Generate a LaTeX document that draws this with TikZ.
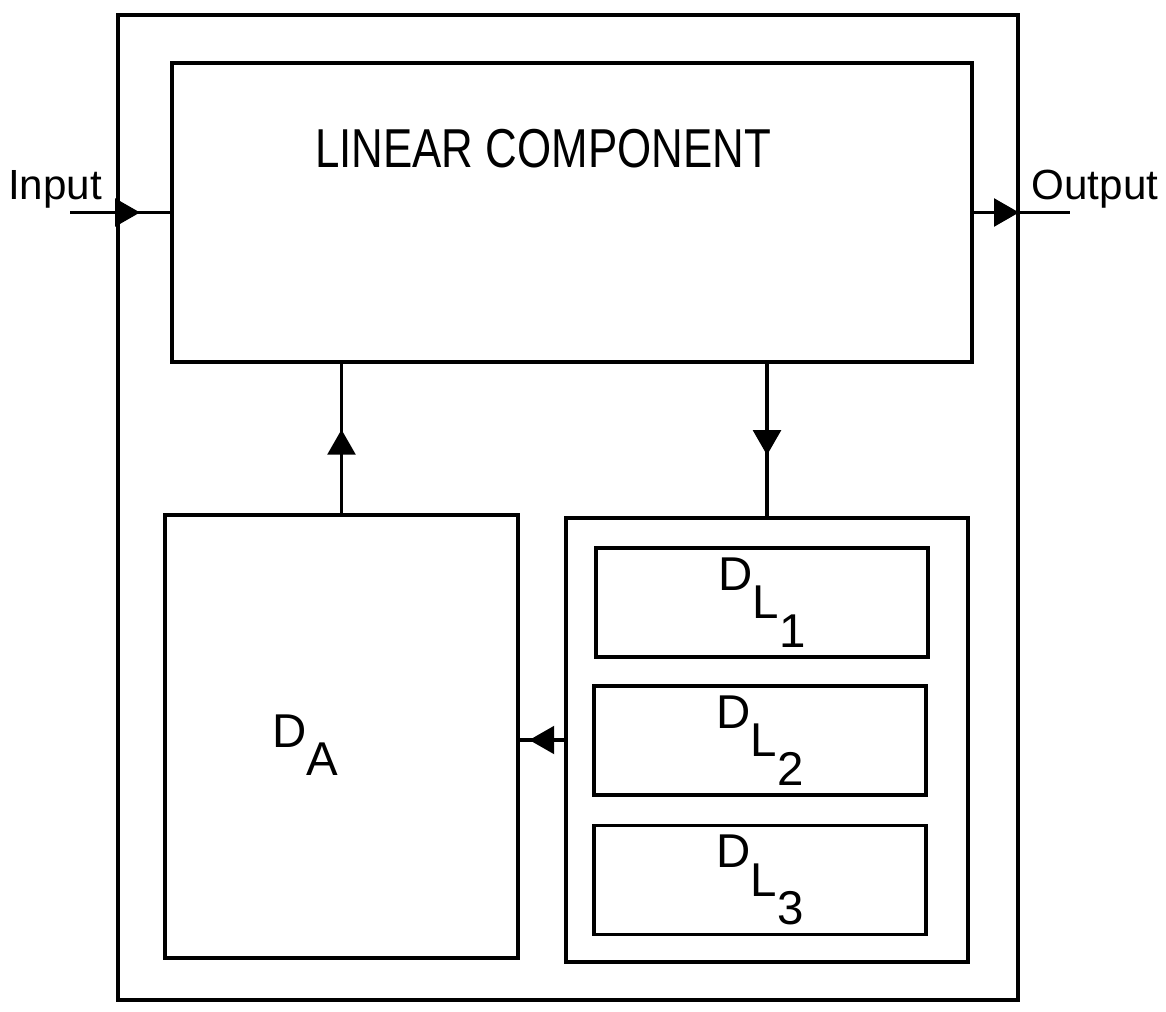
\documentclass[tikz,border=0pt]{standalone}
\usepackage{fontspec}
\setmainfont{Liberation Sans}
\usepackage{tikz}
\usetikzlibrary{arrows.meta, positioning, calc, decorations.markings}

\newcommand{\turun}[1]{\raisebox{-0.6em}{#1}}

\begin{document}
\begin{tikzpicture}[
    kotak/.style={draw, line width=2.2pt, inner sep=0pt},
    teks/.style={font=\fontsize{24}{26}\selectfont},
    simbol/.style={font=\fontsize{27}{29}\selectfont},
    panahtengah/.style={line width=2.2pt, postaction={decorate}, decoration={markings,
        mark=at position #1 with {\arrow{Triangle[length=0.5cm, width=0.55cm]}}}}
  ]
    \useasboundingbox (0,0) rectangle (23.32,-20.24);
    \node[kotak, minimum width=18cm, minimum height=19.7cm] (luar) at (11.36,-10.15) {};
    \node[kotak, minimum width=16cm, minimum height=5.98cm] (linier) at (11.44,-4.25) {};
    \node[font=\fontsize{26}{28}\selectfont] (judul) at (10.86,-2.98) {\scalebox{0.96}[1.2]{LINEAR COMPONENT}};
    \node[kotak, minimum width=7.06cm, minimum height=8.86cm] (da) at (6.83,-14.73) {};
    \node[simbol] (labelda) at (6.1,-14.9) {D\turun{A}};
    \node[kotak, minimum width=8.04cm, minimum height=8.88cm] (grup) at (15.34,-14.8) {};
    \node[kotak, minimum width=6.64cm, minimum height=2.18cm, simbol] (dl1) at (15.24,-12.05) {D\turun{L\turun{1}}};
    \node[kotak, minimum width=6.64cm, minimum height=2.18cm, simbol] (dl2) at (15.2,-14.81) {D\turun{L\turun{2}}};
    \node[kotak, minimum width=6.64cm, minimum height=2.18cm, simbol] (dl3) at (15.2,-17.6) {D\turun{L\turun{3}}};
    \coordinate (masuk) at (1.4,-4.25);
    \coordinate (keluar) at (21.4,-4.25);
    \node[teks, anchor=base] (inputlbl) at (1.1,-4.0) {Input};
    \node[teks, anchor=base] (outputlbl) at (21.9,-4.0) {Output};
    % sambungan
    \draw[panahtengah=0.7] (masuk) -- (linier.west);
    \draw[panahtengah=0.47] (linier.east) -- (keluar);
    \draw[panahtengah=0.56] (da.north) -- (da.north |- linier.south);
    \draw[panahtengah=0.6] (linier.south -| grup.north) -- (grup.north);
    \draw[panahtengah=0.79] (grup.west) -- (grup.west -| da.east);
  \end{tikzpicture}
\end{document}
